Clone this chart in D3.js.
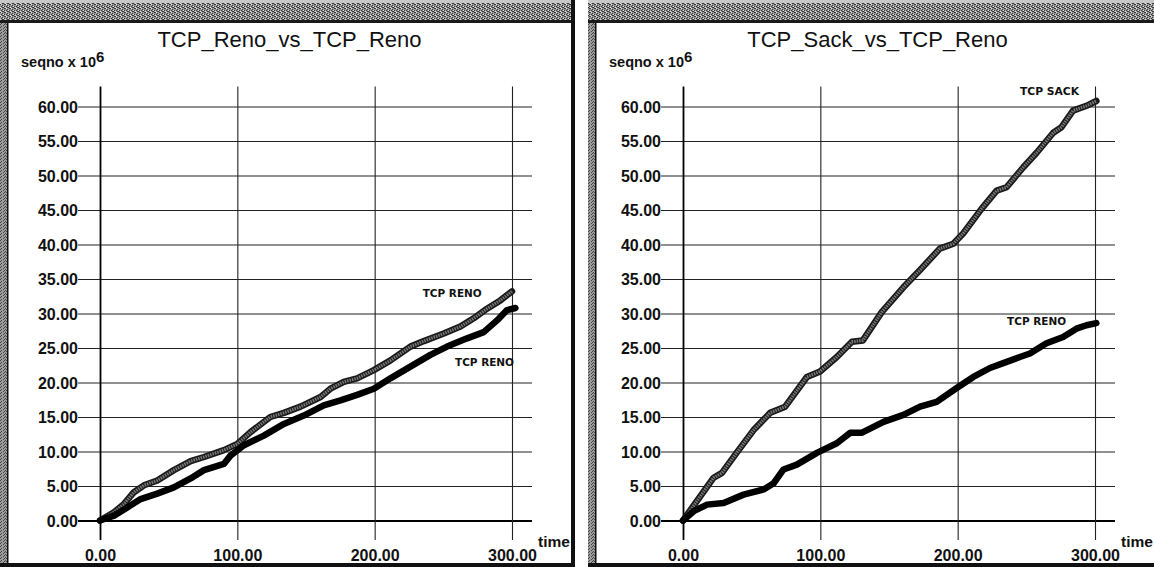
<!DOCTYPE html>
<html><head><meta charset="utf-8">
<script src="https://cdn.jsdelivr.net/npm/d3@7"></script>
<style>
html,body{margin:0;padding:0;background:#fff;}
svg{display:block;}
</style></head>
<body>
<svg id="chart" width="1154" height="567"></svg>
<script>
// ---------- DATA ----------
const panelTitles = ["TCP_Reno_vs_TCP_Reno", "TCP_Sack_vs_TCP_Reno"];
const xTicks = [0, 100, 200, 300];
const yTicks = [0, 5, 10, 15, 20, 25, 30, 35, 40, 45, 50, 55, 60];
const yAxisTitle = "seqno x 10";
const yAxisExp = "6";
const xAxisTitle = "time";

// Left panel: TCP Reno (gray) vs TCP Reno (black)
const leftRenoA_t = [0,10.2,17.5,24.7,32,41.7,53.8,66,75.7,90.2,100,109.6,124,133.9,146,160.6,167.8,177.5,187.2,199.4,211.5,226,235.8,250.3,262.4,272.1,281.8,291.5,300];
const leftRenoA_v = [0,1.2,2.4,4.1,5.1,5.8,7.3,8.6,9.2,10.2,11.1,12.8,15.0,15.6,16.5,17.9,19.1,20.1,20.6,21.8,23.2,25.2,26.0,27.1,28.1,29.3,30.7,31.9,33.2];
const leftRenoB_t = [0,10.2,19.9,29.6,41.7,53.8,66,75.7,90.2,95,104.8,119.3,133.9,148.4,162.9,175.1,187.2,199.4,211.5,226,240.6,252.7,267.3,279.4,289.1,296.4,302.5];
const leftRenoB_v = [0,0.7,1.9,3.1,3.9,4.8,6.1,7.3,8.2,9.4,10.9,12.3,14.0,15.2,16.7,17.4,18.2,19.1,20.6,22.3,24.0,25.2,26.4,27.3,29.0,30.5,30.8];

// Right panel: TCP Sack (gray) vs TCP Reno (black)
const rightSack_t = [0,22.3,28.4,39,51.4,63.5,74.4,90.2,99.8,112,123,131,144.7,160.5,172.6,187,196.8,204,217.5,228.4,235.6,247.8,257.5,269.6,275.6,284,293.8,301];
const rightSack_v = [0,6.2,6.9,9.8,13.1,15.6,16.5,20.8,21.6,23.7,25.9,26.1,30.2,33.8,36.3,39.4,40.1,41.6,45.2,47.8,48.3,51.2,53.3,56.2,57.0,59.4,60.1,60.8];
const rightReno_t = [0,7.8,17.5,29.6,44.1,58.7,66,73.2,82.9,97.5,112,121.7,130,146,160.5,172.6,184.7,199.3,211.4,223.5,233.2,245.3,252.6,264.7,276.8,286.5,293.8,301];
const rightReno_v = [0,1.35,2.3,2.55,3.75,4.5,5.4,7.4,8.1,9.8,11.2,12.7,12.7,14.3,15.3,16.5,17.2,19.2,20.8,22.1,22.8,23.7,24.2,25.7,26.6,27.8,28.3,28.6];

const leftLabels = ["TCP RENO", "TCP RENO"];
const rightLabels = ["TCP SACK", "TCP RENO"];

// ---------- DRAW ----------
const svg = d3.select("#chart");
const defs = svg.append("defs");
// dither pattern for title bars
const pat = defs.append("pattern").attr("id","dither").attr("width",5).attr("height",4).attr("patternUnits","userSpaceOnUse");
pat.append("rect").attr("width",5).attr("height",4).attr("fill","#9a9a9a");
[[0,0],[2,1],[4,0],[1,2],[3,3],[2,3],[4,2]].forEach(([a,b])=>pat.append("rect").attr("x",a).attr("y",b).attr("width",1).attr("height",1).attr("fill","#3a3a3a"));
[[1,0],[3,2],[0,3]].forEach(([a,b])=>pat.append("rect").attr("x",a).attr("y",b).attr("width",1).attr("height",1).attr("fill","#e0e0e0"));
// dither for side borders
const pat2 = defs.append("pattern").attr("id","dither2").attr("width",6).attr("height",3).attr("patternUnits","userSpaceOnUse");
pat2.append("rect").attr("width",6).attr("height",3).attr("fill","#9c9c9c");
[[0,0],[3,1],[1,2],[4,0],[5,2]].forEach(([a,b])=>pat2.append("rect").attr("x",a).attr("y",b).attr("width",1).attr("height",1).attr("fill","#444"));

const panels = [
  {x0: 0, x1: 575, origin: 100, title: panelTitles[0],
   series: [
     {t: leftRenoA_t, v: leftRenoA_v, style: "gray", label: leftLabels[0], lt: 235, lv: 32.4},
     {t: leftRenoB_t, v: leftRenoB_v, style: "black", label: leftLabels[1], lt: 258.5, lv: 22.4}
   ]},
  {x0: 588, x1: 1160, origin: 683, title: panelTitles[1],
   series: [
     {t: rightSack_t, v: rightSack_v, style: "gray", label: rightLabels[0], lt: 245.4, lv: 61.7},
     {t: rightReno_t, v: rightReno_v, style: "black", label: rightLabels[1], lt: 236, lv: 28.3}
   ]}
];

panels.forEach(p => {
  const g = svg.append("g");
  // window frame
  g.append("rect").attr("x",p.x0).attr("y",0).attr("width",p.x1-p.x0).attr("height",22).attr("fill","url(#dither)");
  g.append("rect").attr("x",p.x0).attr("y",0).attr("width",p.x1-p.x0).attr("height",3).attr("fill","#c8c8c8");
  g.append("rect").attr("x",p.x0).attr("y",20).attr("width",p.x1-p.x0).attr("height",3).attr("fill","#1a1a1a");
  g.append("rect").attr("x",p.x0).attr("y",23).attr("width",8).attr("height",544).attr("fill","url(#dither2)");
  g.append("rect").attr("x",p.x0+7).attr("y",23).attr("width",1.5).attr("height",544).attr("fill","#111");
  g.append("rect").attr("x",p.x0).attr("y",563).attr("width",p.x1-p.x0).attr("height",4).attr("fill","#111");
  if (p.x1 < 1154) {
    g.append("rect").attr("x",p.x1-4).attr("y",0).attr("width",4).attr("height",567).attr("fill","#111");
  }

  const x = d3.scaleLinear().domain([0,300]).range([p.origin, p.origin + 412]);
  const y = d3.scaleLinear().domain([0,60]).range([520.5, 106.5]);

  // horizontal grid lines via axis
  const yAxis = d3.axisLeft(y).tickValues(yTicks).tickFormat(d3.format(".2f"))
      .tickSize(0).tickPadding(0);
  const ya = g.append("g").attr("transform", `translate(${x(0) - 22},0)`).call(yAxis);
  ya.select(".domain").remove();
  ya.selectAll(".tick line").attr("x1",0).attr("x2", x(300) + 20 - (x(0) - 22))
    .attr("stroke","#222").attr("stroke-width",1.1);
  ya.selectAll(".tick").filter(d=>d===0).select("line").attr("stroke","#000").attr("stroke-width",2);
  ya.selectAll(".tick text").attr("x",0).attr("font-family","'Liberation Sans', Arial, sans-serif")
    .attr("font-weight","bold").attr("font-size",16).attr("fill","#111").attr("dy","0.36em");

  // vertical grid lines via axis
  const xAxis = d3.axisBottom(x).tickValues(xTicks).tickFormat(d3.format(".2f")).tickSize(0);
  const xa = g.append("g").attr("transform","translate(0,561)").call(xAxis);
  xa.select(".domain").remove();
  xa.selectAll(".tick line").attr("y1", y(60) - 20 - 561).attr("y2", 540 - 561)
    .attr("stroke","#222").attr("stroke-width",1.1);
  xa.selectAll(".tick").filter(d=>d===0).select("line").attr("stroke","#000").attr("stroke-width",1.8);
  xa.selectAll(".tick text").attr("y",0).attr("dy",0).attr("font-family","'Liberation Sans', Arial, sans-serif")
    .attr("font-weight","bold").attr("font-size",16).attr("fill","#111");

  // titles
  g.append("text").attr("x", (p.x0 + 575/2 + 2)).attr("y",47).attr("text-anchor","middle")
    .attr("font-family","'Liberation Sans', Arial, sans-serif").attr("font-size",22).attr("fill","#111").text(p.title);
  const yt = g.append("text").attr("x", p.x0 + 21).attr("y",67)
    .attr("font-family","'Liberation Sans', Arial, sans-serif").attr("font-weight","bold").attr("font-size",14.5).attr("fill","#111");
  yt.append("tspan").text(yAxisTitle);
  yt.append("tspan").attr("dy",-5).attr("font-size",15).text(yAxisExp);
  g.append("text").attr("x", x(300) + 26).attr("y",547)
    .attr("font-family","'Liberation Sans', Arial, sans-serif").attr("font-weight","bold").attr("font-size",15.5).attr("fill","#111").text(xAxisTitle);

  // series
  const line = d3.line().x(d=>x(d[0])).y(d=>y(d[1]));
  p.series.forEach(s => {
    const pts = s.t.map((t,i)=>[t, s.v[i]]);
    if (s.style === "black") {
      g.append("path").attr("d", line(pts)).attr("fill","none").attr("stroke","#000")
        .attr("stroke-width",6.5).attr("stroke-linejoin","round").attr("stroke-linecap","round");
    } else {
      g.append("path").attr("d", line(pts)).attr("fill","none").attr("stroke","#1a1a1a")
        .attr("stroke-width",6.5).attr("stroke-linejoin","round").attr("stroke-linecap","round");
      g.append("path").attr("d", line(pts)).attr("fill","none").attr("stroke","#7a7a7a")
        .attr("stroke-width",3.2).attr("stroke-dasharray","1.5 1").attr("stroke-linejoin","round");
    }
    g.append("text").attr("x", x(s.lt)).attr("y", y(s.lv))
      .attr("font-family","'DejaVu Sans', sans-serif").attr("font-weight","bold").attr("font-size",11)
      .attr("textLength",59).attr("lengthAdjust","spacingAndGlyphs").attr("fill","#111").text(s.label);
  });
});
</script>
</body></html>
